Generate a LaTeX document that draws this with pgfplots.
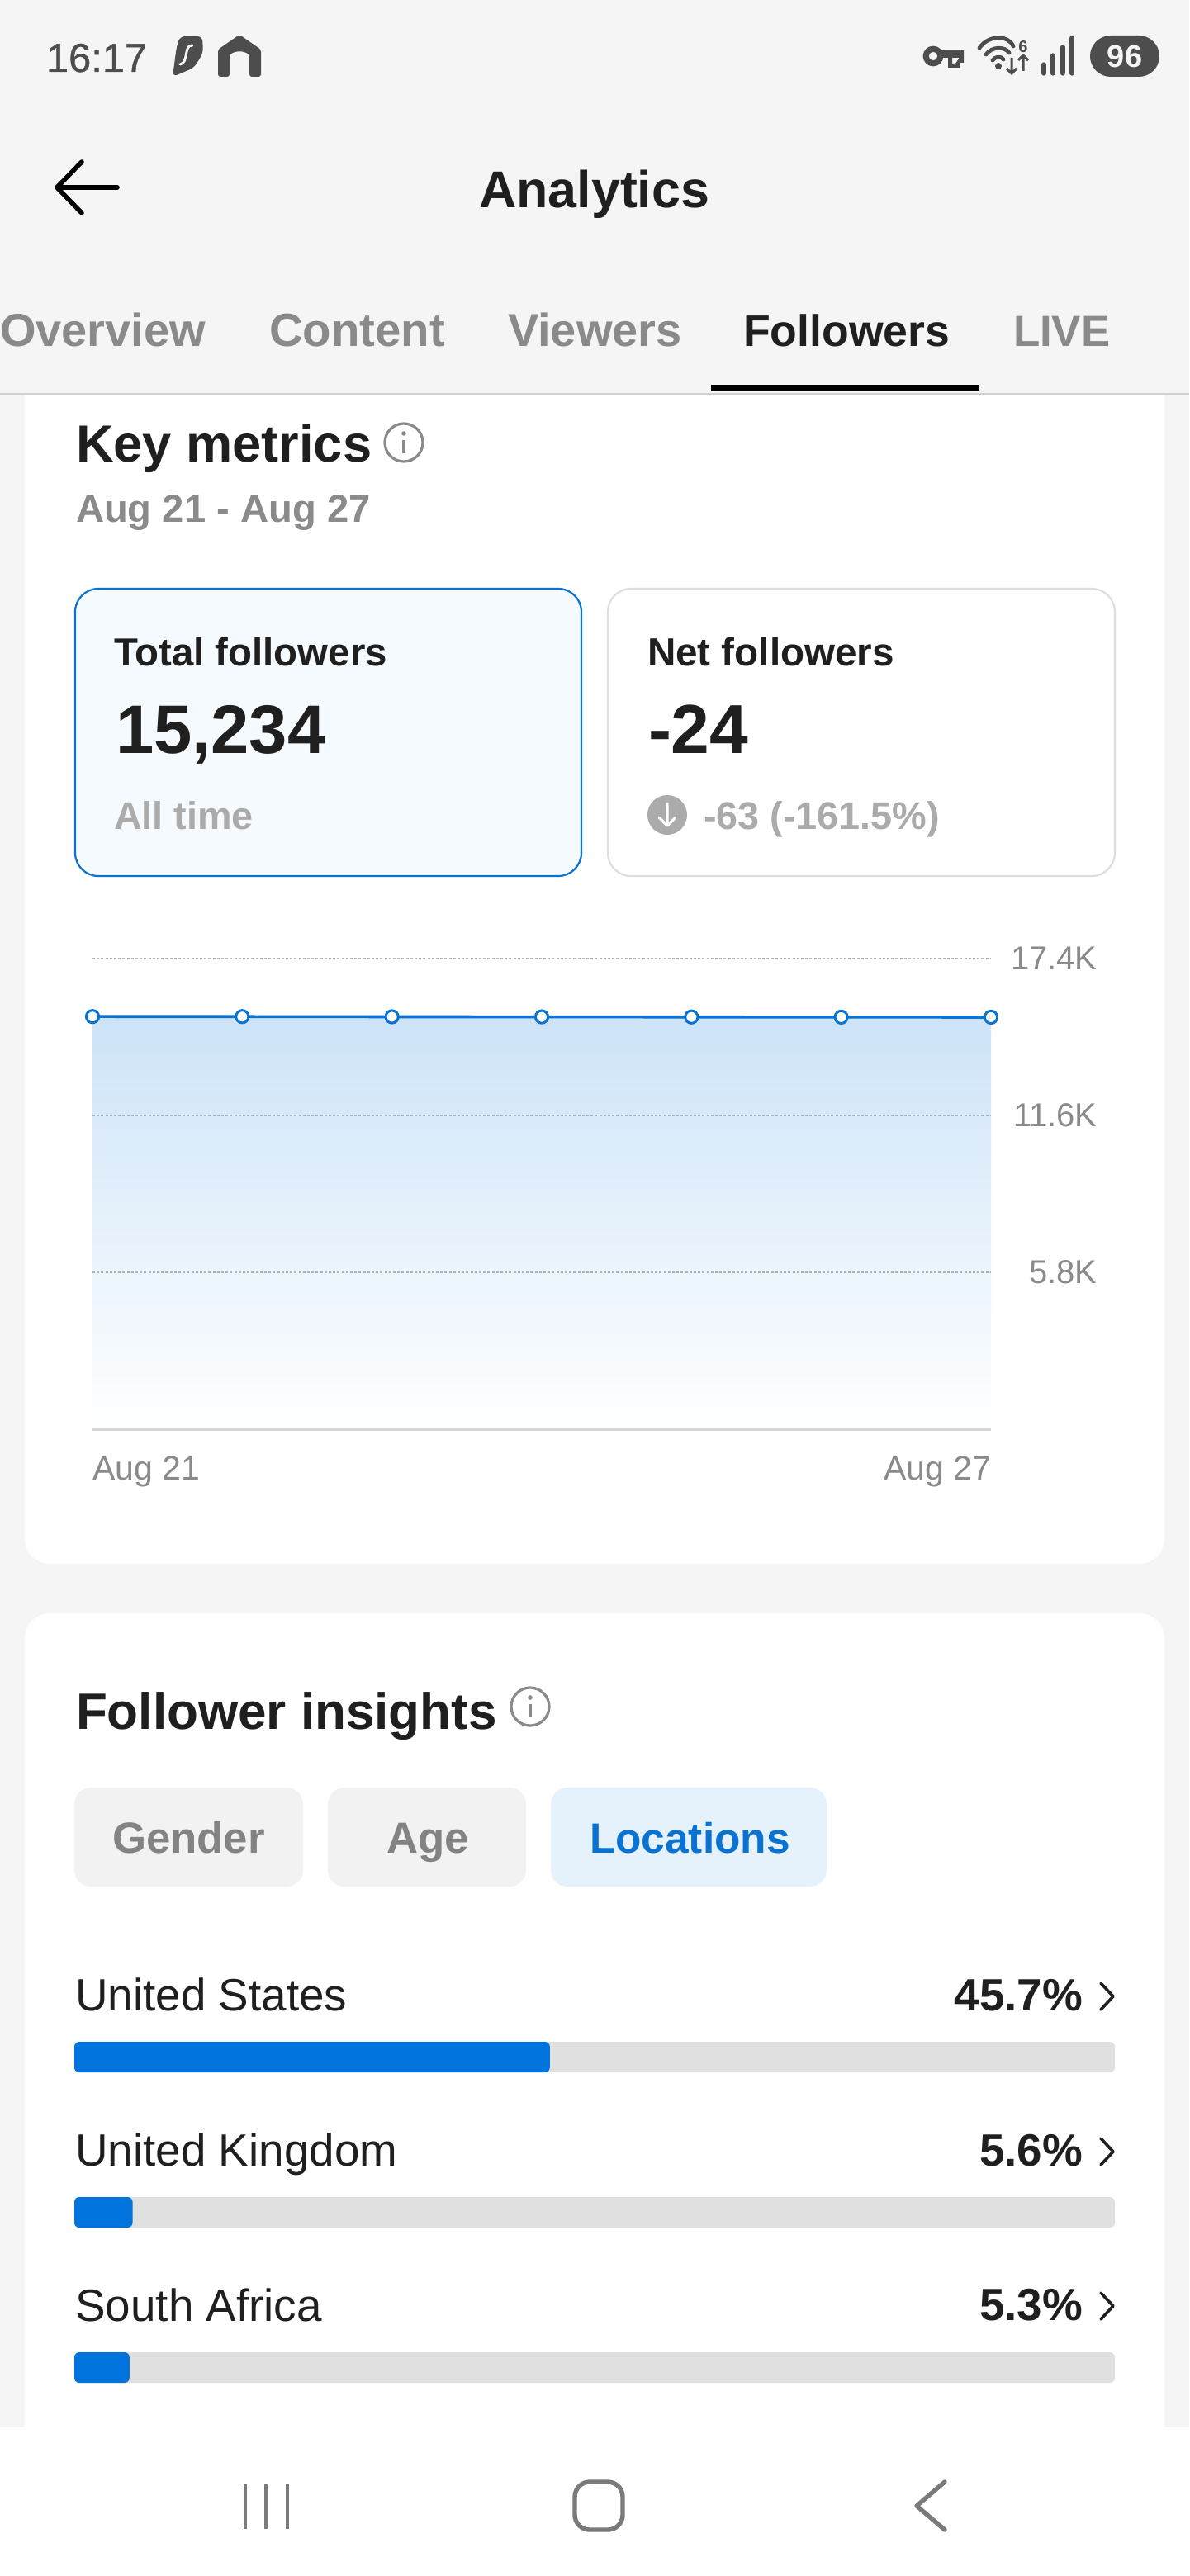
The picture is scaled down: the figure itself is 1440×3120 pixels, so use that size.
\documentclass[border=0pt]{standalone}
\usepackage{fontspec}
\setmainfont{Liberation Sans}
\newfontfamily\med[FakeBold=0.8]{Liberation Sans}
\usepackage{pgfplots}
\pgfplotsset{compat=1.18}
\definecolor{bgc}{HTML}{F5F5F5}
\definecolor{ink}{HTML}{1F1F1F}
\definecolor{mid}{HTML}{8A8A8A}
\definecolor{soft}{HTML}{ABABAB}
\definecolor{stat}{HTML}{4D4D4D}
\definecolor{blu}{HTML}{0A73D2}
\definecolor{barb}{HTML}{0073DC}
\definecolor{trk}{HTML}{E0E0E0}
\definecolor{gridc}{HTML}{ADB1B8}
\definecolor{kpi}{HTML}{F5FAFE}
\definecolor{fillc}{HTML}{CDE3F8}
\definecolor{pill}{HTML}{E5F1FB}
% anchor, x, y, size(pt), colour, text
\newcommand\T[6]{\node[anchor=#1,inner sep=0pt,outer sep=0pt,text=#5] at (#2,#3) {\fontsize{#4}{#4}\selectfont #6};}
\newcommand\Info[3]{%
  \draw[mid,line width=1.6pt] (#1,#2) circle[radius=#3];
  \fill[mid] (#1,#2-11) circle[radius=2.8];
  \draw[mid,line width=1.7pt] (#1,#2-3) -- (#1,#2+13);}
\newcommand\Chev[2]{\draw[ink,line width=1.8pt,line cap=round,line join=round] (#1+2,#2) -- (#1+17,#2+16) -- (#1+2,#2+32);}
\begin{document}
\begin{tikzpicture}[x=0.5pt,y=-0.5pt]
\useasboundingbox (0,0) rectangle (1440,3120);
\fill[bgc] (0,0) rectangle (1440,3120);
% cards
\fill[white,rounded corners=15pt] (30,300) rectangle (1410,1894);
\fill[white,rounded corners=15pt] (30,1954) rectangle (1410,3100);
% header
\fill[bgc] (0,0) rectangle (1440,476);
\draw[white!82!black,line width=1pt] (0,477) -- (1440,477);
\fill[black] (861,466) rectangle (1185,474);
% status bar left
\T{base west}{56}{87}{24.4pt}{stat}{\med 16:17}
\fill[stat,rounded corners=3pt] (218,44) -- (245,44) -- (246,64) -- (235,82) -- (209,93) -- (214,56) -- cycle;
\draw[bgc,line width=1.5pt,line cap=round] (233,55) .. controls (222,54) and (229,76) .. (218,78);
\fill[stat,rounded corners=1.5pt] (264,93) -- (264,60) -- (290,42) -- (316,60) -- (316,93) -- (302,93) -- (302,72) .. controls (302,60) and (278,60) .. (278,72) -- (278,93) -- cycle;
% status bar right
\draw[stat,line width=3.6pt] (1130,68) circle[radius=8.7];
\fill[stat,even odd rule] (1137,61) -- (1167,61) -- (1167,76) -- (1162,76) -- (1162,82) -- (1148,82) -- (1148,70) -- (1137,70) -- cycle (1153,70) -- (1161,70) -- (1161,71) -- (1157,77) -- (1153,77) -- cycle;
\draw[stat,line width=2.4pt,line cap=round] (1186,58) .. controls (1197,42) and (1221,42) .. (1227,56);
\draw[stat,line width=2.4pt,line cap=round] (1194,66) .. controls (1201,56) and (1217,56) .. (1222,64);
\draw[stat,line width=2.4pt,line cap=round] (1202,73) .. controls (1205,68) and (1213,68) .. (1215,72);
\fill[stat] (1209,80) circle[radius=4];
\draw[stat,line width=1.5pt] (1225,70) -- (1225,89) (1219,83) -- (1225,89) -- (1231,83);
\draw[stat,line width=1.5pt] (1239,86) -- (1239,67) (1233,73) -- (1239,67) -- (1245,73);
\T{base}{1239}{64}{10pt}{stat}{\bfseries 6}
\foreach \xx/\yy in {1264/78,1275/67,1287/57,1298/46}{\draw[stat,line width=2.6pt,line cap=round] (\xx,\yy) -- (\xx,89);}
\fill[stat,rounded corners=12.5pt] (1320,43) rectangle (1404,93);
\T{center}{1362}{68}{19pt}{bgc}{\bfseries 96}
% title row
\draw[black,line width=2.8pt,line cap=round,line join=round] (99,196) -- (69,227) -- (99,258);
\draw[black,line width=2.8pt,line cap=round] (69,227) -- (142,227);
\T{base west}{580}{251}{31.4pt}{ink}{\bfseries Analytics}
% tabs
\T{base west}{0}{419}{28pt}{mid}{\bfseries Overview}
\T{base west}{326}{419}{28.2pt}{mid}{\bfseries Content}
\T{base west}{615}{419}{28pt}{mid}{\bfseries Viewers}
\T{base west}{900}{419}{26.8pt}{ink}{\bfseries Followers}
\T{base west}{1227}{419}{26.4pt}{mid}{\bfseries LIVE}
% key metrics
\T{base west}{92}{559}{31.6pt}{ink}{\bfseries Key metrics}
\Info{489}{536}{23}
\T{base west}{92}{632}{23.6pt}{mid}{\bfseries Aug 21 - Aug 27}
% KPI cards
\draw[blu,fill=kpi,line width=1.1pt,rounded corners=14pt] (91,713) rectangle (704,1061);
\draw[black!13,fill=white,line width=1.1pt,rounded corners=14pt] (736,713) rectangle (1350,1061);
\T{base west}{138}{806}{23.7pt}{ink}{\bfseries Total followers}
\T{base west}{140}{912}{41.6pt}{ink}{\bfseries 15,234}
\T{base west}{138}{1004}{23.4pt}{soft}{\bfseries All time}
\T{base west}{784}{806}{23.8pt}{ink}{\bfseries Net followers}
\T{base west}{785}{912}{42pt}{ink}{\bfseries -24}
\fill[soft] (808,987) circle[radius=24];
\draw[white,line width=1.6pt,line cap=round,line join=round] (808,973) -- (808,1000) (798,990) -- (808,1000) -- (818,990);
\T{base west}{852}{1004}{23.4pt}{soft}{\bfseries -63 (-161.5\%)}
% line chart
\coordinate (A) at (112,1731);
\begin{axis}[at={(A)},anchor=south west,scale only axis,width=544pt,height=285pt,
  xmin=0,xmax=6,ymin=0,ymax=17400,clip=false,axis on top,scaled y ticks=false,
  axis x line*=bottom,axis y line*=right,
  x axis line style={-,draw=black!16,line width=1.5pt},
  y axis line style={draw=none},
  major tick length=0pt,
  ymajorgrids,grid style={gridc,line width=0.8pt,dash pattern=on 1.5pt off 1.1pt},
  xtick={0,6},xticklabels={\makebox[0pt][l]{Aug 21},\makebox[0pt][r]{Aug 27}},
  ytick={5800,11600,17400},yticklabels={5.8K,11.6K,17.4K},
  xticklabel style={font=\fontsize{20.5pt}{20.5pt}\selectfont,text=mid,anchor=base,yshift=-30.5pt,inner sep=0pt},
  yticklabel style={font=\fontsize{20pt}{20pt}\selectfont,text=mid,anchor=east,xshift=64.5pt,inner sep=0pt},
]
\addplot[draw=none,top color=fillc,bottom color=white,forget plot] coordinates {(0,15258) (1,15255) (2,15249) (3,15245) (4,15241) (5,15236) (6,15234)} \closedcycle;
\addplot[blu,line width=1.8pt,mark=*,mark size=3.8pt,mark options={fill=white,draw=blu,line width=1.5pt}] coordinates {(0,15258) (1,15255) (2,15249) (3,15245) (4,15241) (5,15236) (6,15234)};
\end{axis}
% insights
\T{base west}{92}{2094}{31pt}{ink}{\bfseries Follower insights}
\Info{642}{2067}{23}
\fill[black!5,rounded corners=10pt] (90,2165) rectangle (367,2285);
\fill[black!5,rounded corners=10pt] (397,2165) rectangle (637,2285);
\fill[pill,rounded corners=10pt] (667,2165) rectangle (1001,2285);
\T{base west}{136}{2244}{26.4pt}{mid!95!black}{\bfseries Gender}
\T{base west}{468}{2244}{26.4pt}{mid!95!black}{\bfseries Age}
\T{base west}{714}{2244}{25.7pt}{blu}{\bfseries Locations}
% bars
\coordinate (B) at (90,2961.5);
\begin{axis}[at={(B)},anchor=south west,scale only axis,width=630pt,height=282pt,
  xbar,xmin=0,xmax=100,ymin=-0.5,ymax=2.5,bar width=18.5pt,
  axis x line=none,axis y line*=left,y axis line style={draw=none},major tick length=0pt,
  ytick={0,1,2},yticklabels={South Africa,United Kingdom,United States},
  yticklabel style={font=\fontsize{27.4pt}{27.4pt}\selectfont,text=ink,anchor=base west,xshift=0.5pt,yshift=28pt,inner sep=0pt},
  clip=false]
\addplot[draw=none,fill=trk,bar shift=0pt,rounded corners=3pt] coordinates {(100,0) (100,1) (100,2)};
\addplot[draw=none,fill=barb,bar shift=0pt,rounded corners=3pt] coordinates {(5.3,0) (5.6,1) (45.7,2)};
\end{axis}
\T{base east}{1311}{2435}{27.4pt}{ink}{\bfseries 45.7\%}
\T{base east}{1311}{2623}{27.4pt}{ink}{\bfseries 5.6\%}
\T{base east}{1311}{2810}{27.4pt}{ink}{\bfseries 5.3\%}
\Chev{1331}{2402}
\Chev{1331}{2590}
\Chev{1331}{2777}
% nav
\fill[white] (0,2940) rectangle (1440,3120);
\foreach \xx in {297,322,348}{\draw[black!52,line width=2.3pt] (\xx,3009) -- (\xx,3063);}
\draw[black!52,line width=2.7pt,rounded corners=9pt] (696,3006) rectangle (754,3064);
\draw[black!52,line width=2.7pt,line cap=round,line join=round] (1144,3006) -- (1110,3035) -- (1144,3064);
\end{tikzpicture}
\end{document}
